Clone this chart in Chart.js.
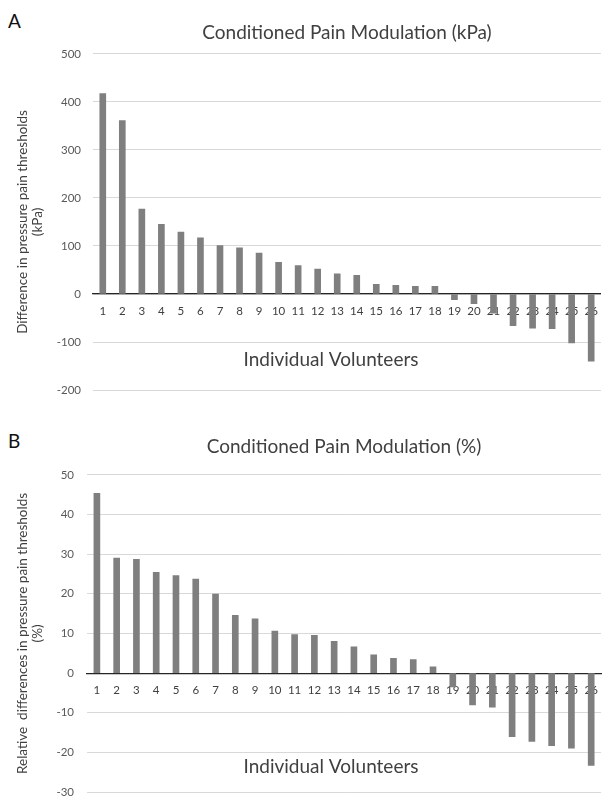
<!DOCTYPE html>
<html lang="en">
<head>
  <meta charset="UTF-8">
  <title>Conditioned Pain Modulation</title>
  <script src="https://cdn.jsdelivr.net/npm/chart.js"></script>
  <style>
    html, body {
      margin: 0;
      padding: 0;
      background: #fff;
      overflow: hidden;
      font-family: 'Lato', sans-serif;
    }
    .panel {
      position: absolute;
      left: 0;
      width: 608px;
    }
    .letter {
      position: absolute;
      left: 8px;
      font-size: 19px;
      color: #111;
    }
  </style>
</head>
<body>
  <div class="letter" style="top: 9px;">A</div>
  <div class="letter" style="top: 429px;">B</div>

  <div class="panel" style="top: 0; height: 409px;">
    <canvas id="chartKpa" width="608" height="409"></canvas>
  </div>
  <div class="panel" style="top: 400px; height: 412px;">
    <canvas id="chartPct" width="608" height="412"></canvas>
  </div>

  <script>
    const volunteers = ['1', '2', '3', '4', '5', '6', '7', '8', '9', '10', '11', '12', '13',
      '14', '15', '16', '17', '18', '19', '20', '21', '22', '23', '24', '25', '26'];

    // difference in pressure pain thresholds (kPa)
    const cpmKpa = [417, 361, 177, 145, 129, 117, 101, 96, 85, 66, 59, 52, 42,
      39, 20, 18, 16, 16, -12, -20, -40, -66, -71, -72, -102, -140];

    // relative differences in pressure pain thresholds (%)
    const cpmPct = [45.3, 29.0, 28.7, 25.4, 24.6, 23.7, 19.9, 14.6, 13.7, 10.6, 9.7, 9.5, 8.0,
      6.6, 4.6, 3.7, 3.4, 1.6, -3.5, -8.0, -8.6, -16.0, -17.2, -18.3, -18.9, -23.3];

    const kpaTicks = { min: -200, max: 500, step: 100 };
    const pctTicks = { min: -30, max: 50, step: 10 };

    // draws "Individual Volunteers" a bit left of the plot centre, like the original
    const axisCaption = {
      id: 'axisCaption',
      afterDraw(chart, args, opts) {
        const ctx = chart.ctx;
        const zero = chart.scales.y.getPixelForValue(0);
        ctx.save();
        ctx.font = '19px Lato';
        ctx.fillStyle = '#404040';
        ctx.textAlign = 'center';
        ctx.textBaseline = 'middle';
        ctx.fillText(opts.text, opts.x, zero + opts.dy);
        ctx.restore();
      }
    };

    function makeChart(canvasId, values, range, cfg) {
      return new Chart(document.getElementById(canvasId), {
        type: 'bar',
        data: {
          labels: volunteers,
          datasets: [{
            data: values,
            backgroundColor: '#7f7f7f',
            barThickness: 6
          }]
        },
        options: {
          responsive: false,
          animation: false,
          layout: { padding: { left: 0, right: 0, top: 0, bottom: 2 } },
          plugins: {
            legend: { display: false },
            tooltip: { enabled: false },
            title: {
              display: true,
              fullSize: false,
              text: cfg.title,
              color: '#404040',
              font: { family: 'Lato', size: 19, weight: 'normal' },
              padding: { top: cfg.titleTop, bottom: cfg.titleBottom }
            },
            axisCaption: { text: 'Individual Volunteers', x: 331, dy: cfg.captionDy }
          },
          scales: {
            x: {
              position: { y: 0 },
              offset: true,
              grid: { display: false, drawTicks: false },
              border: { display: true, color: '#262626', width: 1.2 },
              ticks: {
                color: '#404040',
                font: { family: 'Lato', size: 11.5 },
                padding: 10,
                maxRotation: 0,
                autoSkip: false
              }
            },
            y: {
              min: range.min,
              max: range.max,
              afterFit(scale) { scale.width = cfg.axisWidth; },
              grid: { color: '#d9d9d9', drawTicks: false },
              border: { display: false },
              ticks: {
                stepSize: range.step,
                color: '#595959',
                font: { family: 'Lato', size: 11.5 },
                padding: cfg.tickPad
              },
              title: {
                display: true,
                text: cfg.yTitle,
                color: '#404040',
                font: { family: 'Lato', size: 13.5, lineHeight: 1.12 },
                padding: { top: 15, bottom: 0 }
              }
            }
          }
        },
        plugins: [axisCaption]
      });
    }

    makeChart('chartKpa', cpmKpa, kpaTicks, {
      title: 'Conditioned Pain Modulation (kPa)',
      yTitle: ['Difference in pressure pain thresholds', '(kPa)'],
      titleTop: 21, titleBottom: 10,
      axisWidth: 93, tickPad: 12, captionDy: 66
    });

    makeChart('chartPct', cpmPct, pctTicks, {
      title: 'Conditioned Pain Modulation (%)',
      yTitle: ['Relative  differences in pressure pain thresholds', '(%)'],
      titleTop: 35, titleBottom: 17,
      axisWidth: 87, tickPad: 13, captionDy: 94
    });
  </script>
</body>
</html>
